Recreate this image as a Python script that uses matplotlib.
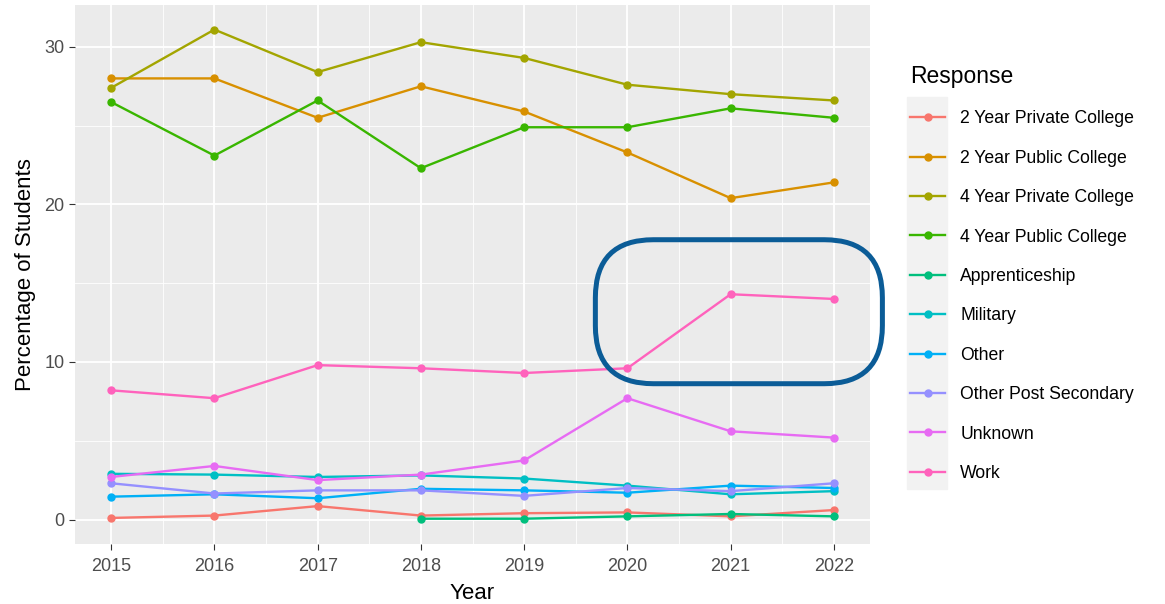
import numpy as np
import matplotlib
matplotlib.use("Agg")
import matplotlib.pyplot as plt
from matplotlib.lines import Line2D
from matplotlib.patches import FancyBboxPatch, Rectangle

plt.rcParams['font.family'] = ['Liberation Sans', 'DejaVu Sans']

years = [2015, 2016, 2017, 2018, 2019, 2020, 2021, 2022]

responses = ["2 Year Private College", "2 Year Public College", "4 Year Private College",
             "4 Year Public College", "Apprenticeship", "Military", "Other",
             "Other Post Secondary", "Unknown", "Work"]

colors = ["#F8766D", "#D89000", "#A3A500", "#39B600", "#00BF7D",
          "#00BFC4", "#00B0F6", "#9590FF", "#E76BF3", "#FF62BC"]

two_yr_private = [0.1, 0.25, 0.85, 0.25, 0.4, 0.45, 0.2, 0.6]
two_yr_public = [28.0, 28.0, 25.5, 27.5, 25.9, 23.3, 20.4, 21.4]
four_yr_private = [27.4, 31.1, 28.4, 30.3, 29.3, 27.6, 27.0, 26.6]
four_yr_public = [26.5, 23.1, 26.6, 22.3, 24.9, 24.9, 26.1, 25.5]
apprentice_years = [2018, 2019, 2020, 2021, 2022]
apprenticeship = [0.05, 0.05, 0.2, 0.35, 0.2]
military = [2.9, 2.85, 2.7, 2.8, 2.6, 2.15, 1.6, 1.8]
other = [1.45, 1.6, 1.35, 1.95, 1.85, 1.7, 2.15, 2.0]
other_post = [2.3, 1.65, 1.85, 1.85, 1.5, 2.0, 1.8, 2.3]
unknown = [2.7, 3.4, 2.5, 2.85, 3.75, 7.7, 5.6, 5.2]
work = [8.2, 7.7, 9.8, 9.6, 9.3, 9.6, 14.3, 14.0]

series = [(years, two_yr_private), (years, two_yr_public), (years, four_yr_private),
          (years, four_yr_public), (apprentice_years, apprenticeship), (years, military),
          (years, other), (years, other_post), (years, unknown), (years, work)]

W, H = 1165, 604
fig = plt.figure(figsize=(W / 100, H / 100), dpi=100)
ax = fig.add_axes([75 / W, 1 - 544 / H, (870 - 75) / W, (544 - 5) / H])
ax.set_facecolor("#EBEBEB")

for (xs, ys), c in zip(series, colors):
    ax.plot(xs, ys, color=c, lw=1.7, marker='o', ms=5, zorder=3)

ax.set_xlim(2014.65, 2022.35)
ax.set_ylim(-1.555, 32.66)
ax.set_xticks(years)
ax.set_xticks(np.arange(2015.5, 2022, 1), minor=True)
ax.set_yticks([0, 10, 20, 30])
ax.set_yticks([5, 15, 25], minor=True)
ax.grid(which='major', color='white', lw=1.3, zorder=0)
ax.grid(which='minor', color='white', lw=0.6, zorder=0)
ax.set_axisbelow(True)
for s in ax.spines.values():
    s.set_visible(False)
ax.tick_params(which='major', length=4, color='#333333', labelsize=13, labelcolor='#4D4D4D')
ax.tick_params(axis='x', pad=6)
ax.tick_params(which='minor', length=0)
ax.set_xlabel("Year", fontsize=16, labelpad=6)
ax.set_ylabel("Percentage of Students", fontsize=16, labelpad=6)

# highlight box around the recent Work values
fig.canvas.draw()
p0 = ax.transData.transform((2019.69, 8.62))
p1 = ax.transData.transform((2022.47, 17.76))
r = 0.58
box = FancyBboxPatch((p0[0] / 100 + r, p0[1] / 100 + r),
                     (p1[0] - p0[0]) / 100 - 2 * r, (p1[1] - p0[1]) / 100 - 2 * r,
                     boxstyle="round,pad=%f" % r, transform=fig.dpi_scale_trans,
                     fill=False, ec="#0B5C97", lw=3.6, clip_on=False, zorder=5)
fig.add_artist(box)

# legend
fig.add_artist(Rectangle((907 / W, 1 - 489 / H), 40 / W, (489 - 97) / H,
                         transform=fig.transFigure, color="#F2F2F2", zorder=0))
handles = [Line2D([], [], color=c, lw=1.7, marker='o', ms=5) for c in colors]
leg = fig.legend(handles, responses, loc='upper left', bbox_to_anchor=(903 / W, 1 - 58 / H),
                 frameon=False, fontsize=12.7, title="Response", title_fontsize=16.5,
                 handlelength=2.0, handletextpad=0.85, labelspacing=1.27,
                 borderaxespad=0)
leg._legend_box.align = "left"

fig.savefig("out.png", dpi=100)
